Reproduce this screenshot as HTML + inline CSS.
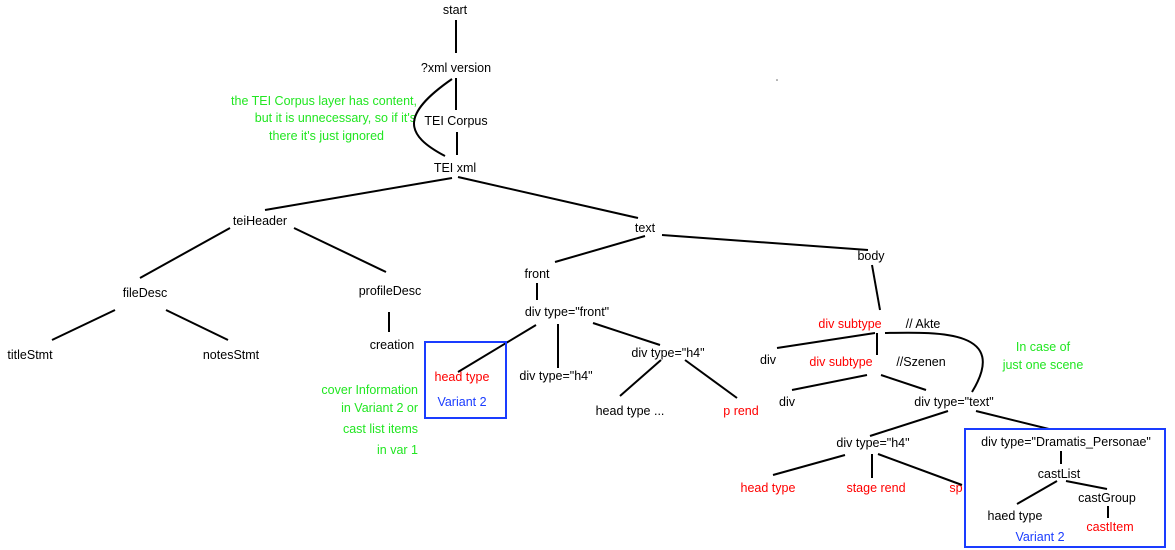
<!DOCTYPE html>
<html><head><meta charset="utf-8"><style>
html,body{margin:0;padding:0;background:#fff;}
svg{display:block;}
text{font-family:"Liberation Sans",sans-serif;font-size:12.5px;fill:#000;}
.r{fill:#ff0000;} .g{fill:#22e622;} .b{fill:#1a3cff;}
line,path{stroke:#000;stroke-width:2;fill:none;}
</style></head><body>
<svg width="1175" height="550" viewBox="0 0 1175 550">
<g text-anchor="middle">
<text x="455" y="14">start</text>
<text x="456" y="72">?xml version</text>
<text x="456" y="125">TEI Corpus</text>
<text x="455" y="172">TEI xml</text>
<text x="260" y="225">teiHeader</text>
<text x="645" y="232">text</text>
<text x="145" y="297">fileDesc</text>
<text x="390" y="295">profileDesc</text>
<text x="30" y="359">titleStmt</text>
<text x="231" y="359">notesStmt</text>
<text x="392" y="349">creation</text>
<text x="537" y="278">front</text>
<text x="871" y="260">body</text>
<text x="567" y="316">div type="front"</text>
<text x="556" y="380">div type="h4"</text>
<text x="668" y="357">div type="h4"</text>
<text x="630" y="415">head type ...</text>
<text x="741" y="415" class="r">p rend</text>
<text x="850" y="328" class="r">div subtype</text>
<text x="923" y="328">// Akte</text>
<text x="768" y="364">div</text>
<text x="841" y="366" class="r">div subtype</text>
<text x="921" y="366">//Szenen</text>
<text x="787" y="406">div</text>
<text x="954" y="406">div type="text"</text>
<text x="1043" y="351" class="g">In case of</text>
<text x="1043" y="369" class="g">just one scene</text>
<text x="873" y="447">div type="h4"</text>
<text x="768" y="492" class="r">head type</text>
<text x="876" y="492" class="r">stage rend</text>
<text x="956" y="492" class="r">sp</text>
</g>
<g text-anchor="end">
<text x="417" y="105" class="g">the TEI Corpus layer has content,</text>
<text x="416" y="122" class="g">but it is unnecessary, so if it's</text>
<text x="384" y="140" class="g">there it's just ignored</text>
<text x="418" y="394" class="g">cover Information</text>
<text x="418" y="412" class="g">in Variant 2 or</text>
<text x="418" y="433" class="g">cast list items</text>
<text x="418" y="454" class="g">in var 1</text>
</g>
<line x1="456" y1="20" x2="456" y2="53"/>
<line x1="456" y1="78" x2="456" y2="110"/>
<line x1="457" y1="132" x2="457" y2="155"/>
<path d="M452 79 C 400 115, 405 135, 445 156"/>
<line x1="452" y1="178" x2="265" y2="210"/>
<line x1="458" y1="177" x2="638" y2="218"/>
<line x1="230" y1="228" x2="140" y2="278"/>
<line x1="294" y1="228" x2="386" y2="272"/>
<line x1="115" y1="310" x2="52" y2="340"/>
<line x1="166" y1="310" x2="228" y2="340"/>
<line x1="389" y1="312" x2="389" y2="332"/>
<line x1="645" y1="236" x2="555" y2="262"/>
<line x1="662" y1="235" x2="868" y2="250"/>
<line x1="537" y1="283" x2="537" y2="300"/>
<line x1="536" y1="325" x2="458" y2="372"/>
<line x1="558" y1="324" x2="558" y2="368"/>
<line x1="593" y1="323" x2="660" y2="345"/>
<line x1="661" y1="360" x2="620" y2="396"/>
<line x1="685" y1="360" x2="737" y2="398"/>
<line x1="872" y1="265" x2="880" y2="310"/>
<line x1="875" y1="333" x2="777" y2="348"/>
<line x1="877" y1="333" x2="877" y2="355"/>
<path d="M885 333 C 940 332, 1010 330, 972 392"/>
<line x1="867" y1="375" x2="792" y2="390"/>
<line x1="881" y1="375" x2="926" y2="390"/>
<line x1="948" y1="411" x2="870" y2="436"/>
<line x1="976" y1="411" x2="1053" y2="430"/>
<line x1="845" y1="455" x2="773" y2="475"/>
<line x1="872" y1="454" x2="872" y2="478"/>
<line x1="878" y1="454" x2="962" y2="485"/>
<rect x="425" y="342" width="81" height="76" fill="none" stroke="#1a3cff" stroke-width="2"/>
<text x="462" y="381" class="r" text-anchor="middle">head type</text>
<text x="462" y="406" class="b" text-anchor="middle">Variant 2</text>
<rect x="965" y="429" width="200" height="118" fill="#fff" stroke="#1a3cff" stroke-width="2"/>
<g text-anchor="middle">
<text x="1066" y="446">div type="Dramatis_Personae"</text>
<text x="1059" y="478">castList</text>
<text x="1107" y="502">castGroup</text>
<text x="1015" y="520">haed type</text>
<text x="1110" y="531" class="r">castItem</text>
<text x="1040" y="541" class="b">Variant 2</text>
</g>
<line x1="1061" y1="451" x2="1061" y2="464"/>
<line x1="1057" y1="481" x2="1017" y2="504"/>
<line x1="1066" y1="481" x2="1107" y2="489"/>
<line x1="1108" y1="506" x2="1108" y2="518"/>
<circle cx="777" cy="80" r="0.8" fill="#666"/>
</svg>
</body></html>
